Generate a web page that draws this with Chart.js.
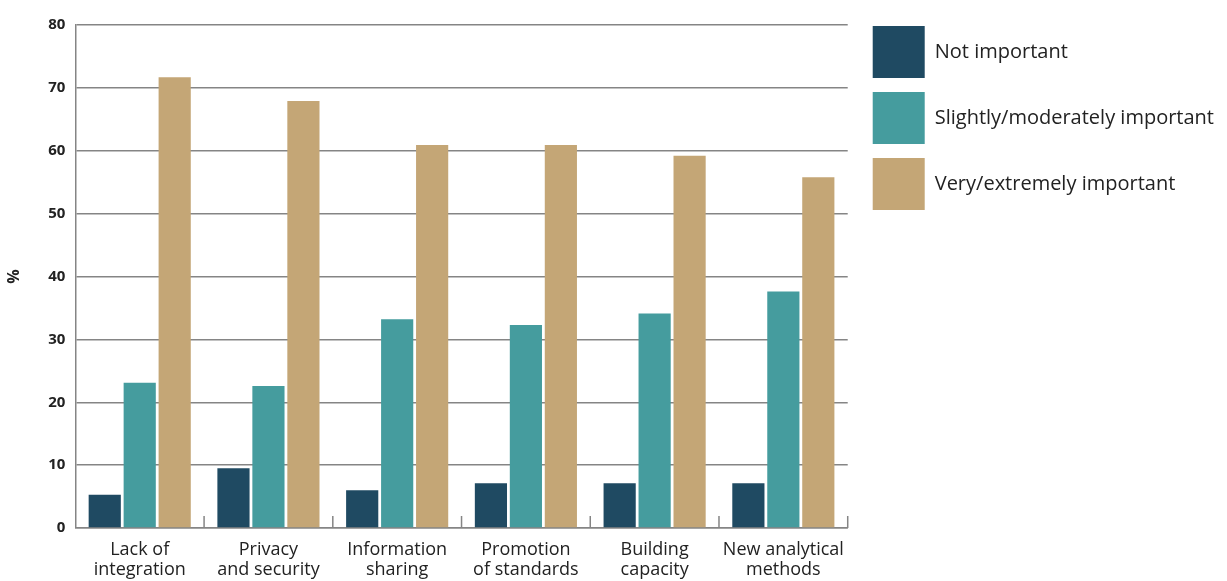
<!DOCTYPE html>
<html>
<head>
<meta charset="utf-8">
<script src="https://cdn.jsdelivr.net/npm/chart.js@4.4.1/dist/chart.umd.min.js"></script>
<style>
  html, body { margin: 0; padding: 0; background: #fff; }
  #wrap { width: 1227px; height: 581px; }
</style>
</head>
<body>
<div id="wrap"><canvas id="myChart" width="1227" height="581"></canvas></div>
<script>
const categories = [
    ['Lack of', 'integration'],
    ['Privacy', 'and security'],
    ['Information', 'sharing'],
    ['Promotion', 'of standards'],
    ['Building', 'capacity'],
    ['New analytical', 'methods']
];
const notImportant = [5.3, 9.5, 6.0, 7.1, 7.1, 7.1];
const slightlyImportant = [23.1, 22.6, 33.2, 32.3, 34.1, 37.6];
const veryImportant = [71.7, 67.9, 60.9, 60.9, 59.2, 55.8];
const seriesNames = ['Not important', 'Slightly/moderately important', 'Very/extremely important'];
const seriesColors = ['#1f4a62', '#459c9e', '#c4a676'];
const yTicks = [0, 10, 20, 30, 40, 50, 60, 70, 80];

const gridGray = '#858585';

// small upward ticks between categories on the base line
const boundaryTicks = {
    id: 'boundaryTicks',
    afterDatasetsDraw(chart) {
        const x = chart.scales.x;
        const y = chart.scales.y;
        const base = y.getPixelForValue(0);
        const c = chart.ctx;
        c.save();
        c.strokeStyle = gridGray;
        c.lineWidth = 1.5;
        for (let i = 1; i <= categories.length; i++) {
            const px = x.getPixelForValue(i - 0.5);
            c.beginPath();
            c.moveTo(px, base);
            c.lineTo(px, base - 12);
            c.stroke();
        }
        c.restore();
    }
};

// empty spacer axes, only used to push the plot area around
const spacer = (pos, axis, size) => ({
    type: 'linear',
    axis: axis,
    position: pos,
    display: true,
    grid: { display: false, drawTicks: false },
    border: { display: false },
    ticks: { display: false },
    afterFit(s) {
        if (axis === 'x') s.height = size; else s.width = size;
    }
});

const ctx = document.getElementById('myChart');
new Chart(ctx, {
    type: 'bar',
    data: {
        labels: categories,
        datasets: [
            { label: seriesNames[0], data: notImportant, backgroundColor: seriesColors[0] },
            { label: seriesNames[1], data: slightlyImportant, backgroundColor: seriesColors[1] },
            { label: seriesNames[2], data: veryImportant, backgroundColor: seriesColors[2] }
        ]
    },
    options: {
        responsive: false,
        animation: false,
        layout: { padding: { top: 12, left: 1, right: 3, bottom: 2 } },
        datasets: {
            bar: { categoryPercentage: 0.815, barPercentage: 0.92 }
        },
        scales: {
            x: {
                grid: { display: false, drawTicks: false },
                border: { display: true, color: gridGray, width: 1.5 },
                ticks: {
                    color: '#222',
                    font: { family: 'Open Sans', size: 18, lineHeight: 1.1 },
                    padding: 12,
                    maxRotation: 0
                },
                afterFit(s) { s.height = 51; }
            },
            y: {
                min: 0,
                max: 80,
                afterBuildTicks(axis) {
                    axis.ticks = yTicks.map(v => ({ value: v }));
                },
                grid: { color: gridGray, lineWidth: 1.5, drawTicks: false },
                border: { display: true, color: gridGray, width: 1.5 },
                ticks: {
                    color: '#222',
                    font: { family: 'Open Sans', size: 15, weight: 'bold' },
                    padding: 10
                },
                title: {
                    display: true,
                    text: '%',
                    color: '#222',
                    font: { family: 'Open Sans', size: 16, weight: 'bold' },
                    padding: { bottom: 14 }
                }
            },
            xTop: spacer('top', 'x', 13),
            yRight: spacer('right', 'y', 11)
        },
        plugins: {
            tooltip: { enabled: false },
            legend: {
                position: 'right',
                align: 'start',
                maxWidth: 420,
                labels: {
                    boxWidth: 52,
                    boxHeight: 52,
                    padding: 14,
                    color: '#222',
                    font: { family: 'Open Sans', size: 20 }
                }
            }
        }
    },
    plugins: [boundaryTicks]
});
</script>
</body>
</html>
